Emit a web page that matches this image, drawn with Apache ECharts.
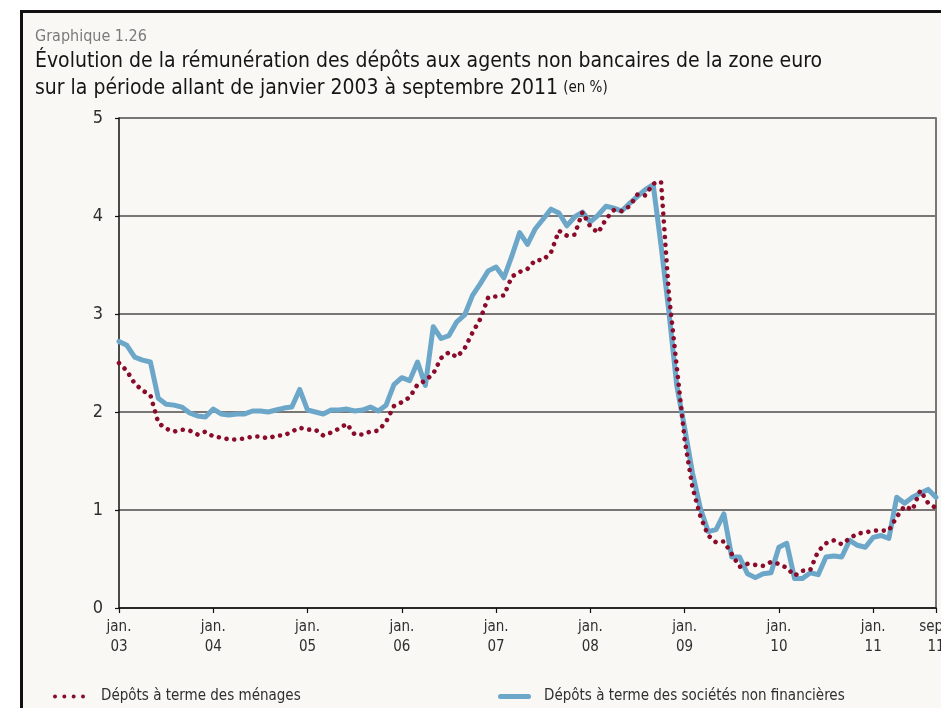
<!DOCTYPE html>
<html>
<head>
<meta charset="utf-8">
<script src="https://cdn.jsdelivr.net/npm/echarts@6/dist/echarts.min.js"></script>
<style>
  html, body { margin: 0; padding: 0; background: #fff; }
  #chart { width: 941px; height: 708px; }
</style>
</head>
<body>
<div id="chart"></div>
<script>
// Monthly series, January 2003 (index 0) to September 2011 (index 104), in %
const menages = [
  2.50, 2.42, 2.29, 2.22, 2.17, 1.89, 1.83, 1.80, 1.82, 1.81, 1.77, 1.80,
  1.75, 1.74, 1.72, 1.72, 1.73, 1.75, 1.75, 1.73, 1.76, 1.76, 1.80, 1.84,
  1.82, 1.82, 1.76, 1.79, 1.83, 1.88, 1.77, 1.77, 1.80, 1.81, 1.90, 2.06,
  2.10, 2.15, 2.28, 2.32, 2.39, 2.55, 2.61, 2.56, 2.65, 2.81, 2.95, 3.17,
  3.18, 3.19, 3.38, 3.43, 3.46, 3.55, 3.55, 3.63, 3.85, 3.80, 3.81, 4.04,
  3.89, 3.83, 3.97, 4.06, 4.05, 4.10, 4.22, 4.21, 4.33, 4.35, 3.20, 2.46,
  1.72, 1.23, 0.94, 0.74, 0.67, 0.68, 0.55, 0.42, 0.45, 0.44, 0.43, 0.47,
  0.45, 0.41, 0.33, 0.38, 0.39, 0.58, 0.66, 0.69, 0.65, 0.71, 0.76, 0.77,
  0.79, 0.79, 0.79, 0.93, 1.04, 1.00, 1.20, 1.07, 1.02
];
const societes = [
  2.72, 2.68, 2.56, 2.53, 2.51, 2.14, 2.08, 2.07, 2.05, 1.99, 1.96, 1.95,
  2.03, 1.98, 1.97, 1.98, 1.98, 2.01, 2.01, 2.00, 2.02, 2.04, 2.05, 2.23,
  2.02, 2.00, 1.98, 2.02, 2.02, 2.03, 2.01, 2.02, 2.05, 2.01, 2.07, 2.28,
  2.35, 2.32, 2.51, 2.27, 2.87, 2.75, 2.78, 2.92, 2.99, 3.19, 3.31, 3.44,
  3.48, 3.37, 3.59, 3.83, 3.71, 3.87, 3.97, 4.07, 4.03, 3.90, 3.99, 4.04,
  3.94, 4.01, 4.10, 4.08, 4.05, 4.13, 4.20, 4.27, 4.32, 3.70, 3.02, 2.27,
  1.84, 1.38, 1.02, 0.78, 0.80, 0.96, 0.52, 0.52, 0.35, 0.31, 0.35, 0.36,
  0.62, 0.66, 0.30, 0.30, 0.36, 0.34, 0.52, 0.53, 0.52, 0.69, 0.64, 0.62,
  0.72, 0.74, 0.71, 1.13, 1.07, 1.13, 1.17, 1.21, 1.13
];
// Tick positions (month index) and their labels
const tickMonths = [0, 12, 24, 36, 48, 60, 72, 84, 96, 104];
const tickLabels = ['jan.\n03', 'jan.\n04', 'jan.\n05', 'jan.\n06', 'jan.\n07',
                    'jan.\n08', 'jan.\n09', 'jan.\n10', 'jan.\n11', 'sept.\n11'];
const yTicks = [0, 1, 2, 3, 4, 5];
const seriesNames = ['Dépôts à terme des ménages', 'Dépôts à terme des sociétés non financières'];

const FONT = '"Liberation Sans Narrow", "DejaVu Sans Condensed", "Roboto Condensed", Roboto, sans-serif';
const RED = '#8a0b2a';
const BLUE = '#6ca7ca';
const INK = '#2f2f2f';

// Legend keys: a row of four dots, and a rounded bar
const DOTS_ICON = 'path://M0,2a2,2 0 1,0 4,0a2,2 0 1,0 -4,0Z' +
  'M9.33,2a2,2 0 1,0 4,0a2,2 0 1,0 -4,0Z' +
  'M18.67,2a2,2 0 1,0 4,0a2,2 0 1,0 -4,0Z' +
  'M28,2a2,2 0 1,0 4,0a2,2 0 1,0 -4,0Z';
const BAR_ICON = 'path://M2.5,0H30.5A2.5,2.5 0 0,1 30.5,5H2.5A2.5,2.5 0 0,1 2.5,0Z';

const chart = echarts.init(document.getElementById('chart'), null, { renderer: 'canvas' });

chart.setOption({
  backgroundColor: '#ffffff',
  animation: false,
  textStyle: { fontFamily: FONT },
  graphic: [{
    type: 'rect',
    z: -10,
    silent: true,
    shape: { x: 21.5, y: 11.5, width: 1000, height: 1000 },
    style: { fill: '#f9f8f4', stroke: '#111', lineWidth: 3 }
  }],
  title: {
    left: 35,
    top: 26,
    padding: 0,
    text: '{a|Graphique 1.26}\n{b|Évolution de la rémunération des dépôts aux agents non bancaires de la zone euro}\n{b|sur la période allant de janvier 2003 à septembre 2011} {c|(en %)}',
    textStyle: {
      fontFamily: FONT,
      fontWeight: 'normal',
      rich: {
        a: { fontFamily: FONT, fontWeight: 'normal', fontSize: 16, color: '#7a7a7a', lineHeight: 22 },
        b: { fontFamily: FONT, fontWeight: 'normal', fontSize: 21, color: '#151515', lineHeight: 27 },
        c: { fontFamily: FONT, fontWeight: 'normal', fontSize: 15, color: '#151515', lineHeight: 27 }
      }
    }
  },
  legend: [
    {
      data: [{ name: seriesNames[0], icon: DOTS_ICON }],
      left: 48,
      top: 684,
      itemWidth: 32,
      itemHeight: 4,
      itemStyle: { color: RED },
      textStyle: { fontFamily: FONT, fontSize: 15, color: INK, padding: [0, 0, 0, 11] }
    },
    {
      data: [{ name: seriesNames[1], icon: BAR_ICON }],
      left: 493,
      top: 684,
      itemWidth: 33,
      itemHeight: 5,
      itemStyle: { color: BLUE },
      textStyle: { fontFamily: FONT, fontSize: 15, color: INK, padding: [0, 0, 0, 8] }
    }
  ],
  grid: { left: 119, right: 5, top: 118, bottom: 100, containLabel: false, outerBoundsMode: 'none' },
  xAxis: {
    type: 'value',
    min: 0,
    max: 104,
    axisLine: { show: true, onZero: false, lineStyle: { color: '#111', width: 1.5 } },
    axisTick: { show: true, length: 5, customValues: tickMonths, lineStyle: { color: '#111', width: 1.2 } },
    axisLabel: {
      customValues: tickMonths,
      margin: 9,
      fontFamily: FONT,
      fontSize: 15,
      lineHeight: 20,
      color: INK,
      formatter: (v) => tickLabels[tickMonths.indexOf(v)] || ''
    },
    splitLine: { show: false }
  },
  yAxis: [
    {
      type: 'value',
      min: 0,
      max: 5,
      interval: 1,
      axisLine: { show: true, lineStyle: { color: '#111', width: 1.5 } },
      axisTick: { show: true, length: 4, lineStyle: { color: '#111', width: 1.2 } },
      axisLabel: {
        margin: 16,
        fontFamily: FONT,
        fontSize: 18,
        color: INK,
        formatter: (v) => yTicks.includes(v) ? String(v) : ''
      },
      splitLine: { show: true, lineStyle: { color: '#4d4d4d', width: 1.5 } }
    },
    {
      type: 'value',
      position: 'right',
      min: 0,
      max: 5,
      interval: 1,
      axisLine: { show: true, lineStyle: { color: '#777', width: 2 } },
      axisTick: { show: false },
      axisLabel: { show: false },
      splitLine: { show: false }
    }
  ],
  series: [
    {
      name: seriesNames[0],
      type: 'line',
      symbol: 'none',
      z: 3,
      data: menages.map((v, i) => [i, v]),
      itemStyle: { color: RED },
      lineStyle: { color: RED, width: 4.6, type: [0.01, 7.8], cap: 'round', join: 'round' }
    },
    {
      name: seriesNames[1],
      type: 'line',
      symbol: 'none',
      z: 2,
      data: societes.map((v, i) => [i, v]),
      itemStyle: { color: BLUE },
      lineStyle: { color: BLUE, width: 5, cap: 'round', join: 'round' }
    }
  ]
});
</script>
</body>
</html>
